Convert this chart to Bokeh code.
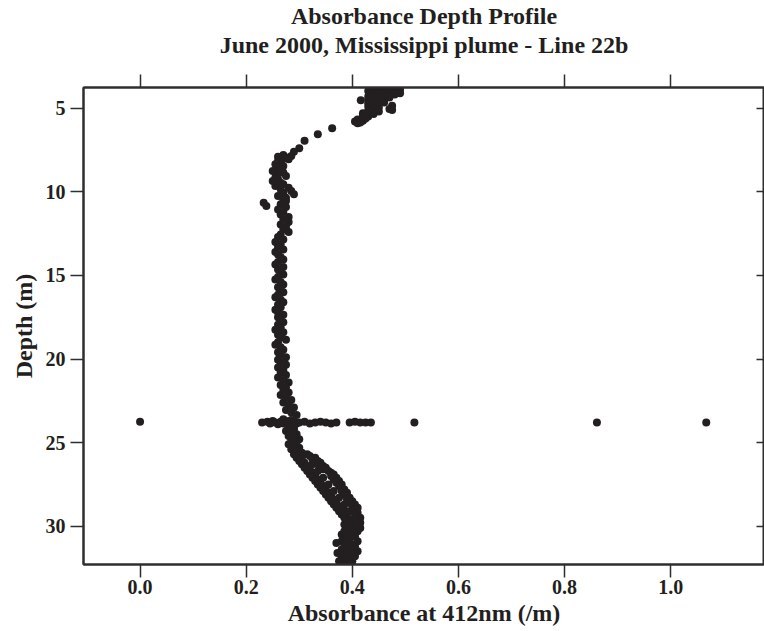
from bokeh.plotting import figure
from bokeh.models import (Range1d, LinearAxis, FixedTicker, NumeralTickFormatter,
                          Title, ColumnDataSource, CustomJSTickFormatter)
from bokeh.embed import file_html
from bokeh.resources import INLINE

title_line1 = "Absorbance Depth Profile"
title_line2 = "June 2000, Mississippi plume - Line 22b"
x_label = "Absorbance at 412nm (/m)"
y_label = "Depth (m)"
x_ticks = [0.0, 0.2, 0.4, 0.6, 0.8, 1.0]
y_ticks = [5, 10, 15, 20, 25, 30]

# surface cluster
top_depth = [3.80, 3.82, 3.84, 3.85, 3.88, 3.90, 3.92, 3.95, 3.97, 4.00,
             4.02, 4.05, 4.08, 4.10, 4.12, 4.15, 4.18, 4.20, 4.22, 4.25,
             4.28, 4.30, 4.33, 4.36, 4.40, 4.45, 4.50, 4.52, 4.55, 4.60,
             4.65, 4.70, 4.75, 4.80, 4.85, 4.90, 4.95, 5.00, 5.05, 5.10,
             5.15, 5.20, 5.25, 5.30, 5.35, 5.40, 5.45, 5.50, 5.55, 5.62,
             5.68, 5.75, 5.80, 5.85, 5.90]
top_abs = [0.46, 0.48, 0.44, 0.47, 0.45, 0.49, 0.47, 0.455, 0.43, 0.48,
           0.45, 0.47, 0.44, 0.49, 0.46, 0.435, 0.48, 0.45, 0.47, 0.44,
           0.46, 0.43, 0.45, 0.47, 0.44, 0.46, 0.43, 0.416, 0.45, 0.44,
           0.46, 0.43, 0.45, 0.44, 0.475, 0.43, 0.45, 0.44, 0.47, 0.475,
           0.43, 0.45, 0.44, 0.42, 0.44, 0.43, 0.42, 0.43, 0.42, 0.425,
           0.41, 0.42, 0.405, 0.415, 0.41]

# transition from surface layer
trans_depth = [6.20, 6.55, 6.95, 7.40, 7.60]
trans_abs = [0.362, 0.335, 0.31, 0.30, 0.29]

# mid-water column
col_depth = [7.80, 7.85, 7.90, 7.95, 8.00, 8.05, 8.15, 8.25, 8.35, 8.45,
             8.55, 8.65, 8.75, 8.85, 8.95, 9.05, 9.15, 9.25, 9.35, 9.45,
             9.55, 9.65, 9.75, 9.85, 9.95, 10.05, 10.15, 10.25, 10.35, 10.45,
             10.55, 10.65, 10.75, 10.85, 10.90, 11.05, 11.20, 11.35, 11.50, 11.65,
             11.80, 11.95, 12.10, 12.25, 12.40, 12.55, 12.70, 12.85, 13.00, 13.15,
             13.30, 13.45, 13.60, 13.75, 13.90, 14.05, 14.20, 14.35, 14.50, 14.65,
             14.80, 14.95, 15.10, 15.25, 15.40, 15.55, 15.70, 15.85, 16.00, 16.15,
             16.30, 16.45, 16.60, 16.75, 16.90, 17.05, 17.20, 17.35, 17.50, 17.65,
             17.80, 17.95, 18.10, 18.25, 18.40, 18.55, 18.70, 18.85, 19.00, 19.15,
             19.30, 19.45, 19.60, 19.75, 19.90, 20.05, 20.20, 20.35, 20.50, 20.65,
             20.80, 20.95, 21.10, 21.25, 21.40, 21.55, 21.70, 21.85, 22.00, 22.15,
             22.30, 22.45, 22.60, 22.75, 22.90, 23.05, 23.20, 23.35]
col_abs = [0.27, 0.285, 0.26, 0.275, 0.27, 0.28, 0.26, 0.265, 0.255, 0.27,
           0.26, 0.265, 0.25, 0.27, 0.26, 0.275, 0.255, 0.26, 0.25, 0.265,
           0.27, 0.255, 0.28, 0.265, 0.285, 0.27, 0.29, 0.26, 0.275, 0.27,
           0.275, 0.233, 0.265, 0.238, 0.275, 0.26, 0.27, 0.265, 0.28, 0.27,
           0.28, 0.265, 0.275, 0.27, 0.28, 0.265, 0.26, 0.27, 0.255, 0.265,
           0.26, 0.27, 0.255, 0.26, 0.265, 0.27, 0.26, 0.255, 0.27, 0.26,
           0.265, 0.27, 0.26, 0.255, 0.265, 0.27, 0.26, 0.265, 0.27, 0.26,
           0.255, 0.265, 0.27, 0.26, 0.265, 0.255, 0.26, 0.27, 0.26, 0.265,
           0.27, 0.26, 0.265, 0.255, 0.27, 0.26, 0.265, 0.275, 0.26, 0.255,
           0.265, 0.27, 0.26, 0.265, 0.275, 0.26, 0.265, 0.275, 0.26, 0.27,
           0.265, 0.275, 0.26, 0.27, 0.28, 0.265, 0.275, 0.27, 0.28, 0.265,
           0.275, 0.285, 0.27, 0.28, 0.29, 0.275, 0.285, 0.295]

# spike at ~23.8 m
spike_depth = [23.75, 23.80, 23.75, 23.85, 23.70, 23.80, 23.90, 23.75, 23.85, 23.70,
               23.80, 23.95, 23.75, 23.85, 23.80, 23.75, 23.85, 23.80, 23.75, 23.80,
               23.85, 23.60, 24.00, 23.65, 24.05, 23.80, 23.80, 23.75, 23.80, 23.80,
               23.80, 23.80, 23.80, 23.80]
spike_abs = [0.0, 0.23, 0.24, 0.245, 0.25, 0.255, 0.26, 0.265, 0.27, 0.275,
             0.28, 0.285, 0.29, 0.295, 0.30, 0.31, 0.32, 0.33, 0.34, 0.35,
             0.36, 0.27, 0.28, 0.285, 0.29, 0.37, 0.395, 0.405, 0.415, 0.425,
             0.435, 0.517, 0.861, 1.067]

# lower layer
low_depth = [24.1, 24.2, 24.3, 24.4, 24.5, 24.6, 24.7, 24.8, 24.9, 25.0,
             25.1, 25.2, 25.3, 25.4, 25.5, 25.6, 25.7, 25.8, 25.9, 26.0,
             26.1, 26.2, 26.3, 26.4, 26.5, 26.6, 26.7, 26.8, 25.7, 25.8,
             25.9, 26.0, 26.1, 26.2, 26.3, 26.4, 26.5, 26.6, 26.7, 26.8,
             26.9, 27.0, 27.1, 27.2, 27.3, 27.4, 27.5, 27.6, 27.7, 27.8,
             27.9, 28.0, 26.9, 27.0, 27.1, 27.2, 27.3, 27.4, 27.5, 27.6,
             27.7, 27.8, 27.9, 28.0, 28.1, 28.2, 28.3, 28.4, 28.5, 28.6,
             28.7, 28.8, 28.9, 29.0, 29.1, 29.2, 28.1, 28.2, 28.3, 28.4,
             28.5, 28.6, 28.7, 28.8, 28.9, 29.0, 29.1, 29.2, 29.3, 29.4,
             29.5, 29.6, 29.7, 29.8, 29.9, 30.0, 30.1, 30.2, 30.3, 30.4,
             29.3, 29.4, 29.5, 29.6, 29.7, 29.8, 29.9, 30.0, 30.1, 30.2,
             30.3, 30.4, 30.5, 30.6, 30.7, 30.8, 30.9, 31.0, 31.1, 31.2,
             31.3, 31.4, 31.5, 31.6, 31.7, 31.8, 31.9, 32.0, 32.1, 32.2,
             32.25, 30.6, 30.9, 31.2, 31.5, 31.8, 31.0, 31.6, 32.1, 26.3,
             26.7, 27.1, 27.5, 27.9, 28.3, 28.7, 29.1]
low_abs = [0.28, 0.29, 0.275, 0.285, 0.295, 0.28, 0.29, 0.30, 0.285, 0.295,
           0.28, 0.29, 0.30, 0.285, 0.295, 0.305, 0.29, 0.30, 0.295, 0.305,
           0.30, 0.31, 0.305, 0.315, 0.31, 0.32, 0.315, 0.325, 0.315, 0.32,
           0.33, 0.325, 0.335, 0.34, 0.335, 0.345, 0.35, 0.345, 0.355, 0.36,
           0.32, 0.33, 0.325, 0.335, 0.33, 0.34, 0.335, 0.345, 0.34, 0.35,
           0.345, 0.355, 0.365, 0.36, 0.37, 0.365, 0.375, 0.37, 0.38, 0.375,
           0.38, 0.385, 0.38, 0.39, 0.35, 0.36, 0.355, 0.365, 0.36, 0.37,
           0.365, 0.375, 0.37, 0.38, 0.375, 0.385, 0.385, 0.39, 0.395, 0.39,
           0.40, 0.395, 0.405, 0.40, 0.41, 0.405, 0.40, 0.41, 0.38, 0.39,
           0.385, 0.395, 0.39, 0.40, 0.385, 0.395, 0.39, 0.40, 0.385, 0.395,
           0.405, 0.41, 0.415, 0.405, 0.41, 0.415, 0.405, 0.41, 0.415, 0.405,
           0.41, 0.405, 0.38, 0.39, 0.385, 0.395, 0.38, 0.39, 0.40, 0.385,
           0.395, 0.38, 0.39, 0.40, 0.385, 0.395, 0.38, 0.39, 0.40, 0.385,
           0.395, 0.405, 0.41, 0.405, 0.41, 0.405, 0.37, 0.372, 0.375, 0.325,
           0.335, 0.345, 0.355, 0.365, 0.375, 0.385, 0.39]

depth = top_depth + trans_depth + col_depth + spike_depth + low_depth
absorb = top_abs + trans_abs + col_abs + spike_abs + low_abs
src = ColumnDataSource(data=dict(depth=depth, absorb=absorb))

FONT = "Liberation Serif"
INK = "#231f20"
FRAME = "#2e2e2e"

p = figure(width=764, height=631,
           x_range=Range1d(-0.1066, 1.1768), y_range=Range1d(32.29, 3.76),
           output_backend="svg", toolbar_location=None, title=None,
           min_border_left=83, min_border_right=0, min_border_top=87,
           min_border_bottom=67)
p.xgrid.visible = False
p.ygrid.visible = False
p.outline_line_color = FRAME
p.outline_line_width = 2
p.background_fill_color = "white"
p.border_fill_color = "white"

def style_axis(ax, tick_out, tick_in):
    ax.axis_line_color = FRAME
    ax.axis_line_width = 2
    ax.major_tick_line_color = FRAME
    ax.major_tick_line_width = 1.5
    ax.major_tick_out = tick_out
    ax.major_tick_in = tick_in
    ax.minor_tick_line_color = None
    ax.major_label_text_font = FONT
    ax.major_label_text_font_style = "bold"
    ax.major_label_text_font_size = "20px"
    ax.major_label_text_color = INK
    ax.axis_label_text_font = FONT
    ax.axis_label_text_font_style = "bold"
    ax.axis_label_text_font_size = "24px"
    ax.axis_label_text_color = INK

xa = p.xaxis[0]
xa.ticker = FixedTicker(ticks=x_ticks)
xa.formatter = NumeralTickFormatter(format="0.0")
xa.axis_label = x_label
style_axis(xa, 13, 0)
xa.major_label_standoff = 2
xa.axis_label_standoff = 3

ya = p.yaxis[0]
ya.ticker = FixedTicker(ticks=y_ticks)
ya.axis_label = y_label
style_axis(ya, 13, 0)
ya.major_label_standoff = 5
ya.axis_label_standoff = 6

# top axis: ticks only; its axis label carries the second title line
empty = CustomJSTickFormatter(code="return ''")
top_ax = LinearAxis(ticker=FixedTicker(ticks=x_ticks), formatter=empty,
                    axis_label=title_line2)
style_axis(top_ax, 13, 0)
top_ax.major_label_text_font_size = "0px"
top_ax.major_label_standoff = 0
top_ax.axis_label_standoff = 17
p.add_layout(top_ax, "above")

right_ax = LinearAxis(ticker=FixedTicker(ticks=y_ticks), formatter=empty)
style_axis(right_ax, 0, 8)
right_ax.major_label_text_font_size = "0px"
right_ax.major_label_standoff = 0
p.add_layout(right_ax, "right")

p.add_layout(Title(text=title_line1, align="center", text_font=FONT,
                   text_font_size="24px", text_font_style="bold",
                   text_color=INK, standoff=0), "above")

p.scatter(x="absorb", y="depth", source=src, marker="circle", size=8,
          fill_color=INK, line_color=None)

open("out.html", "w").write(file_html(p, INLINE))
